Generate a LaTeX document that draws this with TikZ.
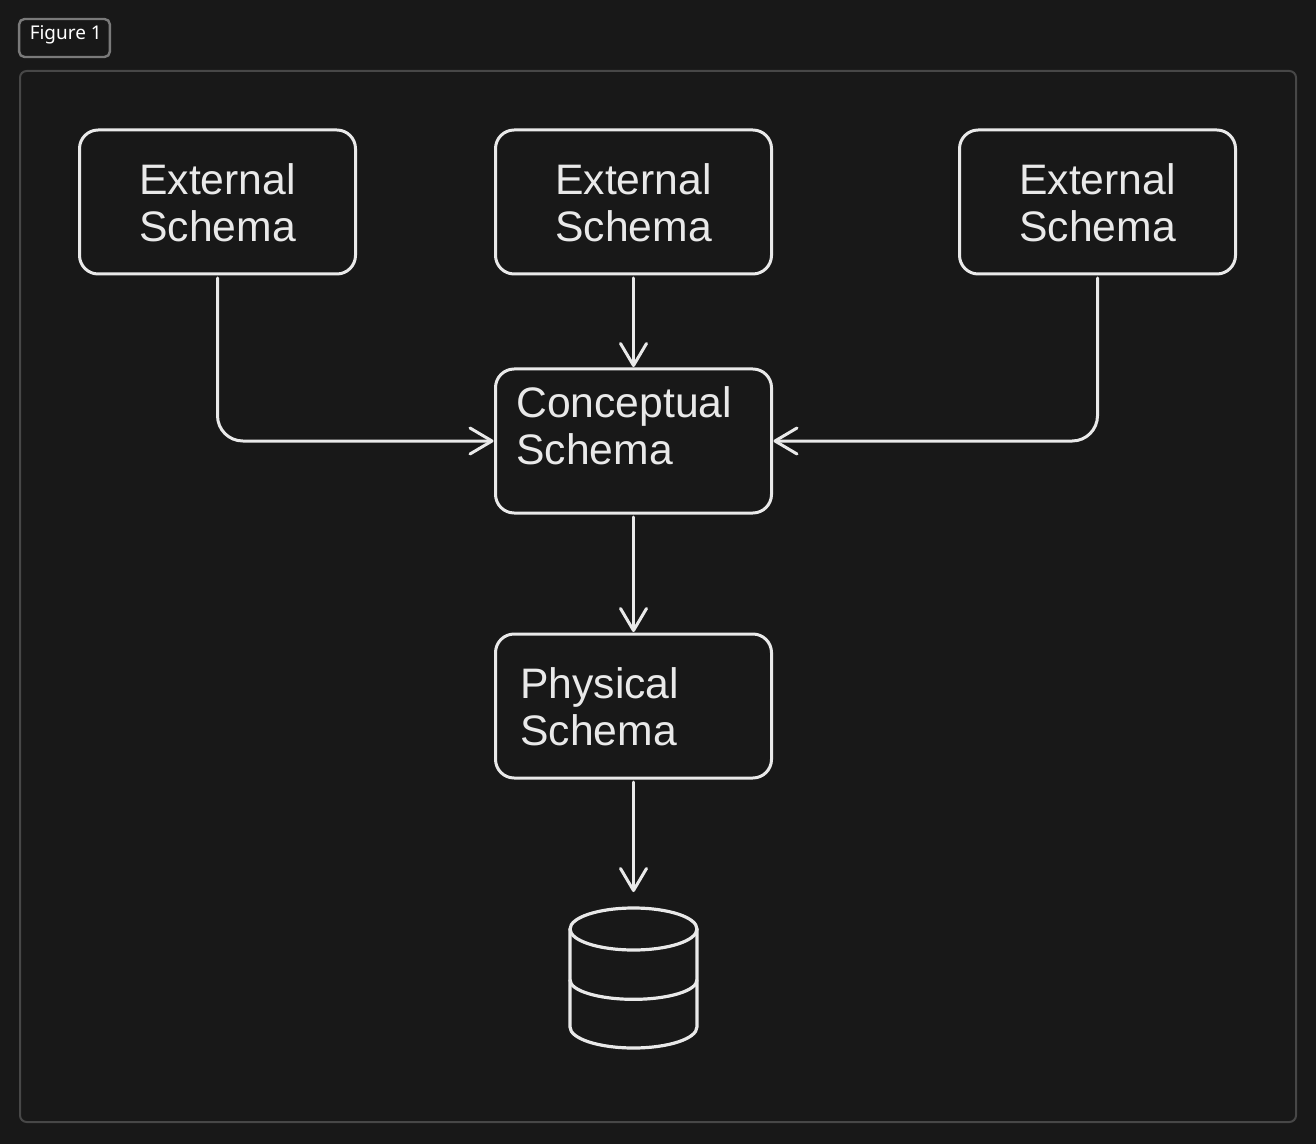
\documentclass[tikz,border=0pt]{standalone}
\usepackage{fontspec}
\setmainfont{Liberation Sans}
\newfontfamily\figfont{Noto Sans}
\usetikzlibrary{arrows.meta}
\definecolor{bgc}{HTML}{181818}
\definecolor{inkc}{HTML}{E9E9E9}
\definecolor{framec}{HTML}{474747}
\definecolor{tagc}{HTML}{7A7A7A}
\tikzset{
  schemabox/.style={draw=inkc,line width=2.25pt,rounded corners=14pt,minimum width=207pt,minimum height=108pt,inner sep=0pt,outer sep=0pt},
  schematext/.style={text=inkc,inner sep=0pt,font=\fontsize{32}{35.25}\selectfont},
  link/.style={draw=inkc,line width=2.25pt,line cap=round,-{Straight Barb[length=16.5pt,width=19.5pt,line width=2.25pt,round]},shorten <=3pt,shorten >=1.5pt},
  dbline/.style={draw=inkc,line width=2.4pt,line cap=round}
}
\begin{document}
\begin{tikzpicture}[x=0.75pt,y=-0.75pt]
\useasboundingbox (0,0) rectangle (1316,1144);
\fill[bgc] (0,0) rectangle (1316,1144);
\draw[framec,line width=1.5pt,rounded corners=5pt] (20,71) rectangle (1296,1122);
\node[draw=tagc,line width=1.8pt,rounded corners=4pt,minimum width=68pt,minimum height=28.5pt,inner sep=0pt] (tag) at (64.5,38) {};
\node[text=white,inner sep=0pt,anchor=base west,font=\figfont\fontsize{14.2}{17}\selectfont] (tagtext) at (29.5,39.5) {Figure 1};

\node[schemabox] (ext1) at (217.5,202) {};
\node[schemabox] (ext2) at (633.5,202) {};
\node[schemabox] (ext3) at (1097.5,202) {};
\node[schemabox] (conc) at (633.5,441) {};
\node[schemabox] (phys) at (633.5,706) {};

\node[schematext,align=center] (t1) at (217.5,203) {External\\Schema};
\node[schematext,align=center] (t2) at (633.5,203) {External\\Schema};
\node[schematext,align=center] (t3) at (1097.5,203) {External\\Schema};
\node[schematext,align=left,anchor=west] (t4) at (516,426) {Conceptual\\Schema};
\node[schematext,align=left,anchor=west] (t5) at (520,707) {Physical\\Schema};

\draw[link,rounded corners=19pt] (ext1.south) |- (conc.west);
\draw[link,rounded corners=19pt] (ext3.south) |- (conc.east);
\draw[link] (ext2.south) -- (conc.north);
\draw[link] (conc.south) -- (phys.north);
\coordinate (dbtop) at (633.5,908);
\draw[link,shorten >=12pt] (phys.south) -- (dbtop);

\draw[dbline] (633.5,929) ellipse [x radius=47.6pt,y radius=15.75pt];
\draw[dbline] (570,929) -- (570,1027) arc[start angle=180,end angle=360,x radius=47.6pt,y radius=15.75pt] -- (697,929);
\draw[dbline] (570,980) arc[start angle=180,end angle=360,x radius=47.6pt,y radius=14.5pt];
\end{tikzpicture}
\end{document}
